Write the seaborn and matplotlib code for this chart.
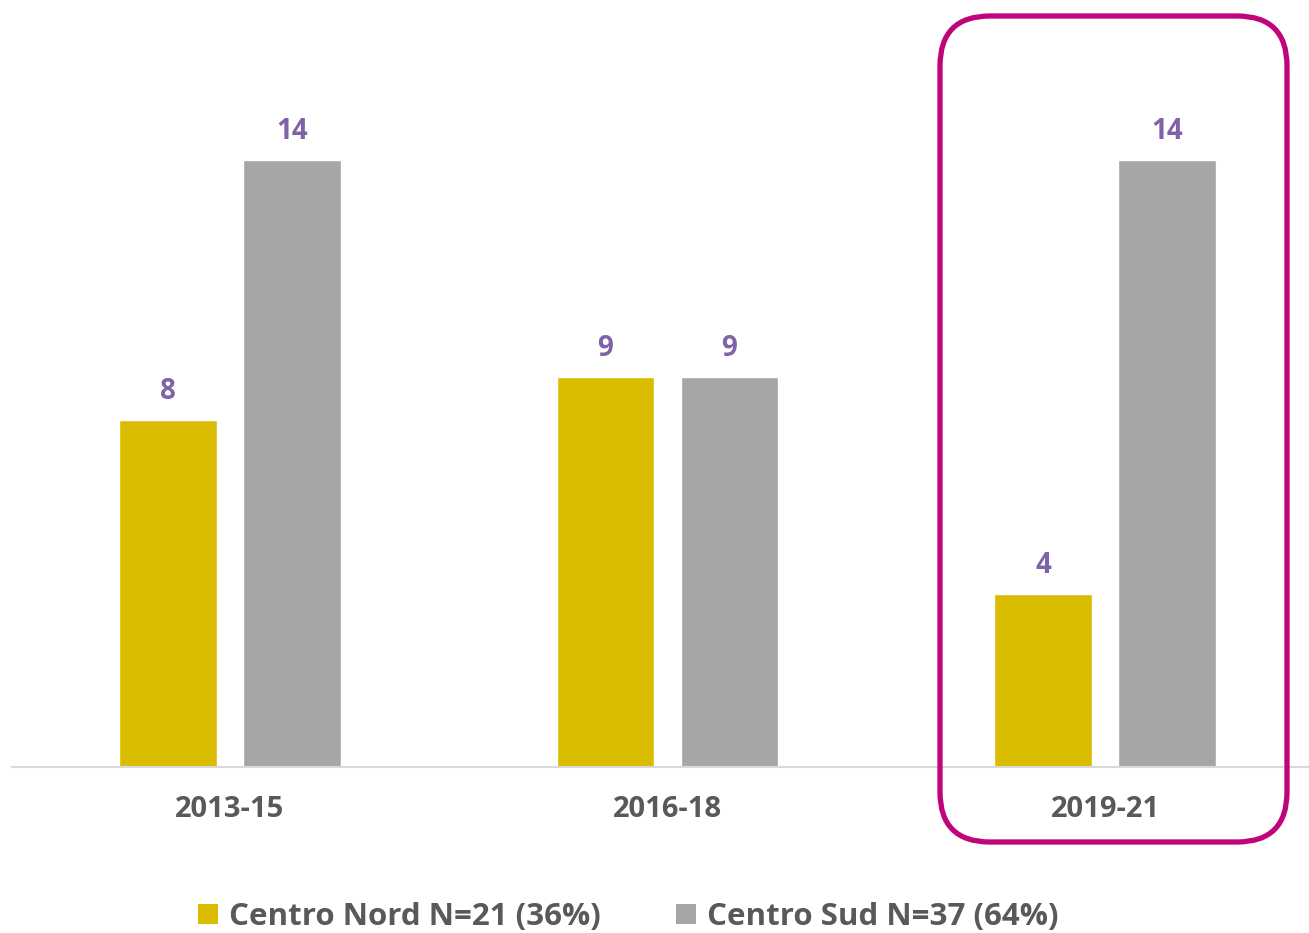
import matplotlib
matplotlib.use("Agg")
import matplotlib.pyplot as plt
import seaborn as sns
import pandas as pd
from matplotlib.patches import FancyBboxPatch, Patch

periods = ["2013-15", "2016-18", "2019-21"]
centro_nord = [8, 9, 4]
centro_sud = [14, 9, 14]
series_names = ["Centro Nord N=21 (36%)", "Centro Sud N=37 (64%)"]
colors = ["#D9BC00", "#A6A6A6"]

df = pd.DataFrame({
    "period": periods * 2,
    "value": centro_nord + centro_sud,
    "series": [series_names[0]] * 3 + [series_names[1]] * 3,
})

sns.set_theme(style="white")
plt.rcParams["font.family"] = ["Open Sans", "DejaVu Sans"]

W, H, DPI = 1309, 933, 100
fig = plt.figure(figsize=(W / DPI, H / DPI), dpi=DPI)
ax_top, ax_bot = 50, 767
ax_left, ax_right = 12, 1309
ax = fig.add_axes([ax_left / W, 1 - ax_bot / H, (ax_right - ax_left) / W, (ax_bot - ax_top) / H])

sns.barplot(data=df, x="period", y="value", hue="series", palette=colors,
            width=0.567, gap=0.217, ax=ax, legend=False, saturation=1)

px_per_unit = 607 / 14
ax.set_ylim(0, (ax_bot - ax_top) / px_per_unit)
ax.set_xlim(-0.4983, (ax_right - ax_left) / 437.5 - 0.4983)

for cont in ax.containers:
    ax.bar_label(cont, padding=10, color="#7F62A8", fontsize=20, fontweight="bold")

for s in ["top", "right", "left"]:
    ax.spines[s].set_visible(False)
ax.spines["bottom"].set_color("#D9D9D9")
ax.spines["bottom"].set_linewidth(1.5)
ax.set_yticks([])
ax.set_xlabel("")
ax.set_ylabel("")
ax.tick_params(axis="x", length=0, pad=20, labelsize=21, labelcolor="#595959")
for t in ax.get_xticklabels():
    t.set_fontweight("bold")

# highlight box around last period
box = FancyBboxPatch((9.40, 0.91), 3.47, 8.26,
                     boxstyle="round,pad=0,rounding_size=0.5",
                     transform=fig.dpi_scale_trans, fill=False,
                     edgecolor="#C0047A", linewidth=3.8, clip_on=False)
fig.patches.append(box)

handles = [Patch(facecolor=c, edgecolor="none") for c in colors]
fig.legend(handles, series_names, loc="center",
           bbox_to_anchor=(628 / W, 1 - 917 / H), ncol=2, frameon=False,
           prop={"size": 22.5, "weight": "bold"}, labelcolor="#595959",
           handlelength=0.65, handleheight=0.65, handletextpad=0.35,
           columnspacing=2.4)

fig.savefig("out.png", dpi=DPI)
